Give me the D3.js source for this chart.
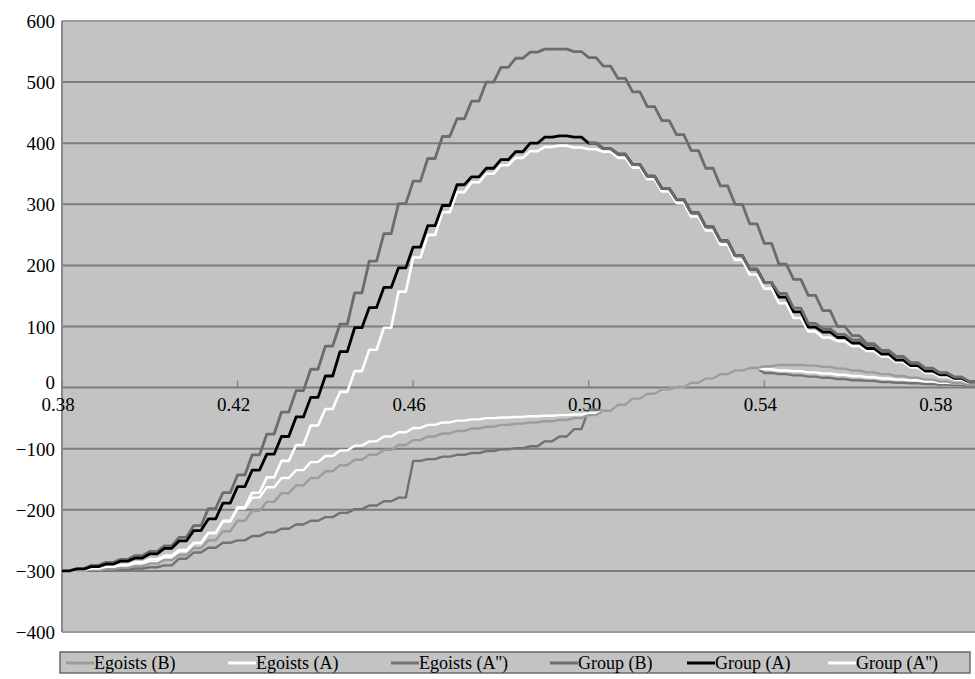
<!DOCTYPE html>
<html><head><meta charset="utf-8">
<script src="https://cdn.jsdelivr.net/npm/d3@7"></script>
<style>
body{margin:0;background:#fff;}
</style></head>
<body><svg id="chart" width="975" height="679"></svg>
<script>
// x grid: k/300 for k = 114..177
const xs = d3.range(114, 178).map(k => k / 300);
const xTicks = [0.38, 0.42, 0.46, 0.50, 0.54, 0.58];
const xTickLabels = ["0.38", "0.42", "0.46", "0.50", "0.54", "0.58"];
const yTicks = [600, 500, 400, 300, 200, 100, 0, -100, -200, -300, -400];

const groupB = [-300,-296,-291,-286,-281,-275,-268,-259,-245,-226,-198,-172,-143,-110,-76,-40,
  -5,30,68,104,155,207,252,301,338,375,411,440,469,500,524,539,
  549,554,554,550,540,526,506,484,460,437,414,388,359,330,300,268,
  236,202,177,151,126,100,85,72,61,51,41,32,24,17,9,4];
const groupA = [-300,-297,-293,-289,-284,-279,-272,-263,-251,-234,-215,-189,-162,-135,-109,-80,
  -48,-16,19,59,98,131,164,196,230,265,298,332,345,359,373,386,
  400,410,412,410,400,391,382,365,346,326,308,286,263,240,216,194,
  172,148,124,99,91,82,73,64,55,45,36,27,21,15,9,4];
const groupA2 = [-300,-298,-296,-293,-290,-286,-281,-275,-266,-254,-238,-219,-196,-172,-147,-120,
  -94,-62,-35,-7,27,62,98,157,213,250,287,320,336,350,364,376,
  387,394,396,393,390,386,376,360,341,321,302,280,257,234,209,185,
  162,138,114,92,82,76,68,60,51,42,33,24,18,13,8,4];
// gray line lying over Group (A) beyond 0.50 (null = not drawn)
const groupOverlay = [null,null,null,null,null,null,null,null,null,null,null,null,null,null,null,null,
  null,null,null,null,null,null,null,null,null,null,null,null,null,null,null,null,
  null,null,null,null,400,391,382,365,346,326,308,286,263,240,216,194,
  172,154,130,105,96,87,78,69,60,50,40,31,24,17,10,5];
const egoistsB = [-300,-299,-298,-297,-295,-292,-288,-282,-274,-263,-250,-235,-218,-202,-187,-173,
  -160,-148,-137,-127,-118,-110,-102,-94,-86,-80,-75,-71,-67,-64,-61,-59,
  -57,-55,-53,-50,-45,-38,-28,-18,-10,-3,1,8,15,22,28,32,
  35,37,37,36,34,31,28,25,22,19,16,13,10,7,4,2];
const egoistsA = [-300,-299,-298,-296,-293,-290,-285,-278,-268,-255,-238,-218,-198,-180,-163,-148,
  -135,-122,-112,-103,-95,-88,-80,-73,-66,-61,-57,-54,-52,-50,-49,-48,
  -47,-46,-45,-44,-42,-38,-28,-18,-10,-3,1,8,15,22,28,32,
  30,28,27,25,23,21,19,17,15,13,12,10,8,7,5,4];
const egoistsA2 = [-300,-300,-300,-299,-298,-296,-294,-291,-280,-270,-262,-254,-250,-243,-237,-231,
  -224,-218,-212,-205,-199,-193,-186,-180,-120,-117,-113,-110,-107,-104,-101,-99,
  -96,-88,-80,-68,-36,-38,-28,-18,-10,-3,1,8,15,22,28,32,
  24,22,20,18,16,14,12,11,9,8,7,6,5,4,3,2];

const legendNames = ["Egoists (B)", "Egoists (A)", "Egoists (A'')", "Group (B)", "Group (A)", "Group (A'')"];

const FONT = "'Liberation Serif', 'DejaVu Serif', 'Times New Roman', serif";
const svg = d3.select("#chart").attr("font-family", FONT);
const L = 62, R = 975, T = 21, B = 632;
const x = d3.scaleLinear().domain([0.38, 0.588]).range([L, R]);
const y = d3.scaleLinear().domain([-400, 600]).range([B, T]);

svg.append("defs").append("clipPath").attr("id","clip")
  .append("rect").attr("x", L).attr("y", T).attr("width", R - L).attr("height", B - T);

svg.append("rect").attr("x", L).attr("y", T).attr("width", R - L).attr("height", B - T)
  .attr("fill", "#c3c3c3");

// gridlines
svg.append("g").selectAll("line").data(yTicks.filter(v => v !== 0 && v !== -400 && v !== 600)).join("line")
  .attr("x1", L).attr("x2", R).attr("y1", d => y(d)).attr("y2", d => y(d))
  .attr("stroke", "#7c7c7c").attr("stroke-width", 2);
// border
svg.append("line").attr("x1", L).attr("x2", R).attr("y1", T).attr("y2", T).attr("stroke", "#9a9a9a").attr("stroke-width", 2);
svg.append("line").attr("x1", L).attr("x2", R).attr("y1", B).attr("y2", B).attr("stroke", "#9a9a9a").attr("stroke-width", 2);
svg.append("line").attr("x1", L).attr("x2", L).attr("y1", T).attr("y2", B).attr("stroke", "#8a8a8a").attr("stroke-width", 2);

// x axis at 0
svg.append("line").attr("x1", L).attr("x2", R).attr("y1", y(0)).attr("y2", y(0))
  .attr("stroke", "#7c7c7c").attr("stroke-width", 2);
svg.append("g").selectAll("line").data(xTicks).join("line")
  .attr("x1", d => x(d)).attr("x2", d => x(d)).attr("y1", y(0) - 7).attr("y2", y(0))
  .attr("stroke", "#7c7c7c").attr("stroke-width", 1.2);
svg.append("g").selectAll("text").data(xTicks).join("text")
  .attr("x", d => x(d) - 4).attr("y", y(0) + 23).attr("text-anchor", "middle")
  .attr("font-family", FONT).attr("font-size", 19).attr("fill", "#000")
  .text((d, i) => xTickLabels[i]);

// y labels
svg.append("g").selectAll("text").data(yTicks).join("text")
  .attr("x", 55).attr("y", d => y(d) + (d === 0 ? 1 : 7)).attr("text-anchor", "end")
  .attr("font-family", FONT).attr("font-size", 19).attr("fill", "#000")
  .text(d => d < 0 ? "\u2212" + Math.abs(d) : String(d));

// step-like path: hold value for half a step, then ramp to the next value
const dx = 1 / 300;
function stepPts(vals) {
  const pts = [];
  vals.forEach((v, i) => {
    if (v === null) return;
    pts.push([xs[i], v]);
    if (i < vals.length - 1 && vals[i + 1] !== null) pts.push([xs[i] + dx * 0.5, v]);
  });
  return pts;
}
const line = d3.line().x(d => x(d[0])).y(d => y(d[1]));

const series = [
  {vals: egoistsA2, color: "#727272", w: 2.4},
  {vals: egoistsA, color: "#ffffff", w: 2.4},
  {vals: egoistsB, color: "#9c9c9c", w: 2.4},
  {vals: groupB, color: "#6c6c6c", w: 2.8},
  {vals: groupA2, color: "#ffffff", w: 2.6},
  {vals: groupA, color: "#000000", w: 2.8},
  {vals: groupOverlay, color: "#6c6c6c", w: 2.8}
];
const gLines = svg.append("g").attr("clip-path", "url(#clip)");
series.forEach(s => {
  gLines.append("path").attr("d", line(stepPts(s.vals)))
    .attr("fill", "none").attr("stroke", s.color).attr("stroke-width", s.w)
    .attr("stroke-linejoin", "round");
});

// legend
const legColors = ["#9c9c9c", "#ffffff", "#727272", "#6c6c6c", "#000000", "#ffffff"];
const legX = [66, 228, 391, 550, 687, 828];
svg.append("rect").attr("x", 60).attr("y", 652).attr("width", 910).attr("height", 21)
  .attr("fill", "#c3c3c3").attr("stroke", "#6a6a6a").attr("stroke-width", 1.5);
const lg = svg.append("g").selectAll("g").data(legendNames).join("g")
  .attr("transform", (d, i) => `translate(${legX[i]},663)`);
lg.append("line").attr("x1", 0).attr("x2", 28).attr("y1", 0).attr("y2", 0)
  .attr("stroke", (d, i) => legColors[i]).attr("stroke-width", 3);
lg.append("text").attr("x", 28).attr("y", 6).attr("font-family", FONT).attr("font-size", 18)
  .attr("fill", "#000").text(d => d);
</script></body></html>
